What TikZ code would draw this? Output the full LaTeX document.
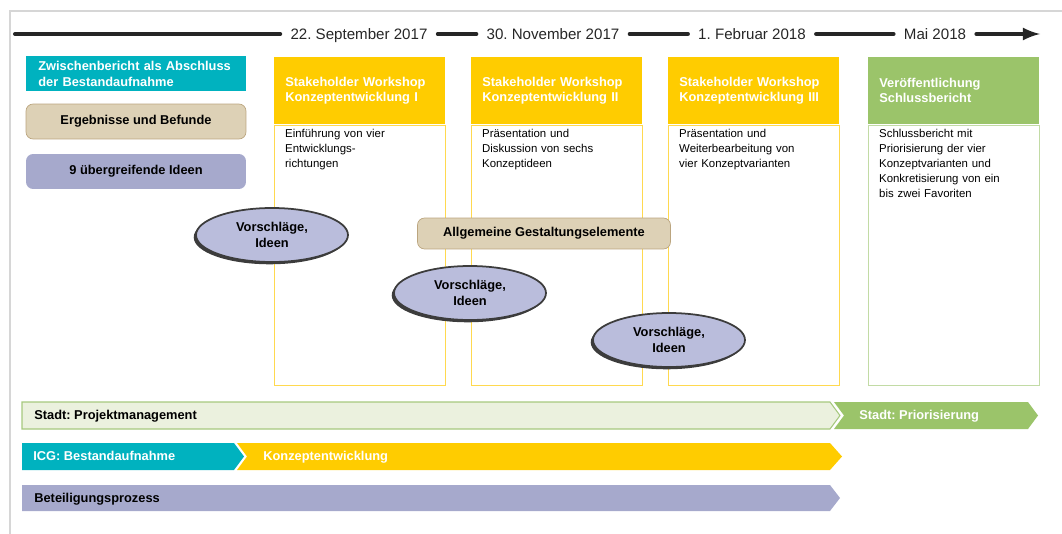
\documentclass[tikz,border=0pt]{standalone}
\usepackage{fontspec}
\setmainfont{Liberation Sans}
\usepackage{tikz}
\usetikzlibrary{shapes,arrows,positioning,shadows}

\definecolor{icgteal}{HTML}{00B2BF}
\definecolor{wsyellow}{HTML}{FFCC00}
\definecolor{wsline}{HTML}{FFD94F}
\definecolor{pubgreen}{HTML}{9BC46A}
\definecolor{publine}{HTML}{C2DBA5}
\definecolor{pmgreen}{HTML}{EBF1DE}
\definecolor{pmline}{HTML}{A6C97E}
\definecolor{tanfill}{HTML}{DDD1B6}
\definecolor{tanline}{HTML}{BBA57F}
\definecolor{ideapurple}{HTML}{A6A9CC}
\definecolor{ellfill}{HTML}{BABDDC}
\definecolor{rimgray}{HTML}{3C3C3C}
\definecolor{framegray}{HTML}{D6D6D6}

\newcommand{\tlfont}{\fontsize{8.6}{10}\selectfont}
\newcommand{\hdfont}{\fontsize{7.3}{8.5}\selectfont\bfseries}
\newcommand{\bdfont}{\fontsize{6.5}{8.5}\selectfont}

\begin{document}
\frenchspacing
\begin{tikzpicture}[x=0.02cm,y=-0.02cm,
  datelabel/.style={font=\tlfont, text=black!85, inner xsep=0.2cm, inner ysep=0.05cm,
    text height=6.2pt, text depth=0pt},
  timeline/.style={line width=2.3pt, draw=black!85, line cap=round},
  wshead/.style={anchor=north west, fill=wsyellow, minimum width=3.42cm, minimum height=1.34cm,
    text width=2.98cm, inner xsep=0.22cm, align=left, font=\hdfont, text=white},
  wsbody/.style={draw=wsline, line width=0.6pt, minimum width=3.42cm, minimum height=5.2cm, inner sep=0},
  bodytext/.style={inner sep=0, text width=3.1cm, align=left, font=\bdfont},
  sidebox/.style={minimum width=4.4cm, minimum height=0.7cm, font=\hdfont, inner sep=0},
  idea/.style={ellipse, fill=ellfill, draw=rimgray, line width=1pt, minimum width=3.04cm,
    minimum height=1.08cm, inner sep=0, align=center, font=\hdfont\linespread{1.1}\selectfont,
    drop shadow={shadow xshift=-1.3pt, shadow yshift=-1.3pt, fill=rimgray, opacity=1}},
  bartext/.style={anchor=west, inner sep=0, text height=5.3pt, text depth=1.5pt, font=\hdfont}]

\useasboundingbox (0,0) rectangle (1062,534);

% Frame
\draw[framegray, line width=0.8pt] (1062,11) -- (10,11) -- (10,534);

% Timeline
\coordinate (tlstart) at (15,34);
\node[datelabel] (d1) at (359,34) {22. September 2017};
\node[datelabel] (d2) at (553,34) {30. November 2017};
\node[datelabel] (d3) at (752,34) {1. Februar 2018};
\node[datelabel] (d4) at (935,34) {Mai 2018};
\coordinate (tlend) at (1040,34);
\draw[timeline] (tlstart) -- (d1);
\draw[timeline] (d1) -- (d2);
\draw[timeline] (d2) -- (d3);
\draw[timeline] (d3) -- (d4);
\draw[timeline,-latex] (d4) -- (tlend);

% Left column
\node[sidebox, anchor=north west, fill=icgteal, text=white, text width=3.92cm, align=left,
  inner xsep=0.24cm, font=\fontsize{7.3}{9}\selectfont\bfseries] (zb) at (26,56)
  {Zwischenbericht als Abschluss\\der Bestandaufnahme};
\node[sidebox, fill=tanfill, draw=tanline, rounded corners=4pt] (erg) at (136,121.5)
  {Ergebnisse und Befunde};
\node[sidebox, fill=ideapurple, rounded corners=4pt] (ideen) at (136,171.5)
  {9 übergreifende Ideen};

% Workshops
\node[wshead] (h1) at (274,57) {Stakeholder Workshop\\Konzeptentwicklung I};
\node[wsbody, below=0pt of h1] (b1) {};
\node[bodytext, below right=0.09cm and 0.22cm of b1.north west] (t1)
  {Einführung von vier\\Entwicklungs-\\richtungen};

\node[wshead] (h2) at (471,57) {Stakeholder Workshop\\Konzeptentwicklung II};
\node[wsbody, below=0pt of h2] (b2) {};
\node[bodytext, below right=0.09cm and 0.22cm of b2.north west] (t2)
  {Präsentation und\\Diskussion von sechs\\Konzeptideen};

\node[wshead] (h3) at (668,57) {Stakeholder Workshop\\Konzeptentwicklung III};
\node[wsbody, below=0pt of h3] (b3) {};
\node[bodytext, below right=0.09cm and 0.22cm of b3.north west] (t3)
  {Präsentation und\\Weiterbearbeitung von\\vier Konzeptvarianten};

% Final report
\node[wshead, fill=pubgreen] (h4) at (868,57) {Veröffentlichung\\Schlussbericht};
\node[wsbody, draw=publine, below=0pt of h4] (b4) {};
\node[bodytext, below right=0.09cm and 0.22cm of b4.north west] (t4)
  {Schlussbericht mit\\Priorisierung der vier\\Konzeptvarianten und\\Konkretisierung von ein\\bis zwei Favoriten};

% Ideas and design elements
\node[idea] (v1) at (272,235) {Vorschläge,\\Ideen};
\node[idea] (v2) at (470,293) {Vorschläge,\\Ideen};
\node[idea] (v3) at (669,340) {Vorschläge,\\Ideen};
\node[sidebox, fill=tanfill, draw=tanline, rounded corners=4pt, minimum width=5.06cm,
  minimum height=0.62cm] (ge) at (544,233.5) {Allgemeine Gestaltungselemente};

% Process bars
\draw[fill=pmgreen, draw=pmline, line width=0.6pt]
  (22,402) -- (830,402) -- (840,415.5) -- (830,429) -- (22,429) -- cycle;
\fill[pubgreen] (834,402) -- (1028,402) -- (1038,415.5) -- (1028,429) -- (834,429) -- (844,415.5) -- cycle;
\node[bartext] (pm) at (34,416.5) {Stadt: Projektmanagement};
\node[bartext, text=white] (pr) at (859,416.5) {Stadt: Priorisierung};

\fill[icgteal] (22,443) -- (234,443) -- (244,456.5) -- (234,470) -- (22,470) -- cycle;
\fill[wsyellow] (237,443) -- (830,443) -- (842,456.5) -- (830,470) -- (237,470) -- (247,456.5) -- cycle;
\node[bartext, text=white] (icg) at (33,457.5) {ICG: Bestandaufnahme};
\node[bartext, text=white] (ke) at (263,457.5) {Konzeptentwicklung};

\fill[ideapurple] (22,485) -- (830,485) -- (840,498) -- (830,511) -- (22,511) -- cycle;
\node[bartext] (bp) at (34,499) {Beteiligungsprozess};
\end{tikzpicture}
\end{document}
